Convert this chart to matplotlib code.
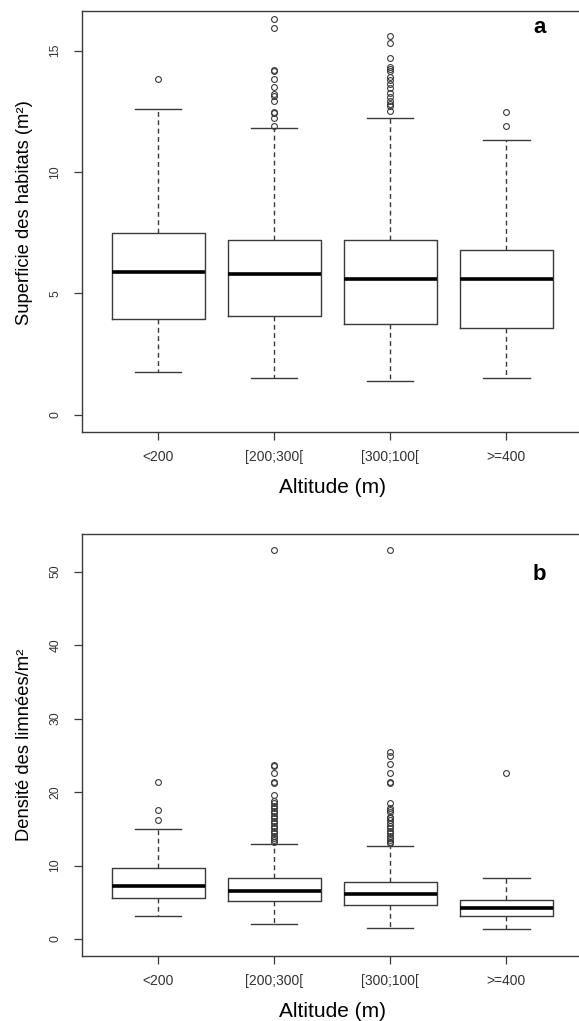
import matplotlib
matplotlib.use("Agg")
import matplotlib.pyplot as plt

plt.rcParams["font.family"] = ["Liberation Sans", "DejaVu Sans"]

# categories
categories = ["<200", "[200;300[", "[300;100[", ">=400"]

# panel a : Superficie des habitats (m²)
a_low = [1.77, 1.50, 1.39, 1.50]
a_q1 = [3.96, 4.08, 3.73, 3.58]
a_med = [5.90, 5.80, 5.59, 5.59]
a_q3 = [7.48, 7.22, 7.22, 6.77]
a_high = [12.6, 11.8, 12.22, 11.3]
a_out = [
    [13.82],
    [16.30, 15.92, 14.21, 14.15, 13.82, 13.52, 13.22, 13.13, 12.92, 12.48, 12.42, 12.22, 11.90],
    [15.62, 15.30, 14.69, 14.34, 14.25, 14.15, 13.90, 13.79, 13.62, 13.45, 13.25, 13.11, 12.94,
     12.81, 12.72, 12.51],
    [12.49, 11.90],
]

# panel b : Densité des limnées/m²
b_low = [3.18, 2.04, 1.54, 1.41]
b_q1 = [5.58, 5.22, 4.58, 3.18]
b_med = [7.21, 6.53, 6.17, 4.22]
b_q3 = [9.62, 8.26, 7.72, 5.27]
b_high = [14.93, 12.89, 12.66, 8.26]
b_out = [
    [21.41, 17.6, 16.2],
    [52.95, 23.73, 23.55, 22.64, 21.42, 21.24, 19.6, 18.79, 18.47, 18.1, 17.79, 17.47, 17.11,
     16.74, 16.43, 16.06, 15.75, 15.38, 15.07, 14.74, 14.38, 14.02, 13.71, 13.48, 13.25],
    [52.95, 25.5, 24.85, 23.78, 22.64, 21.42, 21.19, 18.47, 17.79, 17.56, 17.33, 16.65, 16.43,
     16.2, 15.75, 15.38, 15.07, 14.74, 14.38, 14.02, 13.71, 13.48, 13.25, 13.03],
    [22.6],
]

grey = "#3a3a3a"


def make_stats(low, q1, med, q3, high, out):
    stats = []
    for i in range(len(low)):
        stats.append({"whislo": low[i], "q1": q1[i], "med": med[i], "q3": q3[i],
                      "whishi": high[i], "fliers": out[i]})
    return stats


def draw_panel(ax, stats, ylim, yticks, ylabel, label_y, letter, letter_y):
    ax.bxp(stats, positions=[1, 2, 3, 4], widths=0.8, capwidths=0.4,
           boxprops=dict(color=grey, linewidth=1.0),
           medianprops=dict(color="black", linewidth=2.6, solid_capstyle="butt"),
           whiskerprops=dict(color=grey, linewidth=1.0, linestyle=(0, (3.5, 2.5))),
           capprops=dict(color=grey, linewidth=1.0),
           flierprops=dict(marker="o", markersize=4.2, markerfacecolor="none",
                           markeredgecolor=grey, markeredgewidth=0.8, linestyle="none"))
    ax.set_xlim(0.34, 4.66)
    ax.set_ylim(*ylim)
    ax.set_xticks([1, 2, 3, 4])
    ax.set_xticklabels(categories)
    ax.set_yticks(yticks)
    ax.set_yticklabels([str(t) for t in yticks], rotation=90, va="center")
    ax.tick_params(axis="both", length=5.5, width=0.9, color=grey, labelcolor="#333333")
    ax.tick_params(axis="x", labelsize=10, pad=8)
    ax.tick_params(axis="y", labelsize=8.7, pad=9)
    for s in ax.spines.values():
        s.set_color(grey)
        s.set_linewidth(1.0)
    ax.set_xlabel("Altitude (m)", fontsize=15, labelpad=10)
    ax.set_ylabel(ylabel, fontsize=13.2, labelpad=12, y=label_y)
    ax.text(0.914, letter_y, letter, transform=ax.transAxes, fontsize=16,
            fontweight="semibold", ha="center", va="center")


fig = plt.figure(figsize=(5.79, 10.21), dpi=100)
ax1 = fig.add_axes([0.1408, 0.5772, 0.866, 0.4120])
ax2 = fig.add_axes([0.1408, 0.0640, 0.866, 0.4130])

draw_panel(ax1, make_stats(a_low, a_q1, a_med, a_q3, a_high, a_out), (-0.69, 16.63),
           [0, 5, 10, 15], "Superficie des habitats (m²)", 0.52, "a", 0.96)
draw_panel(ax2, make_stats(b_low, b_q1, b_med, b_q3, b_high, b_out), (-2.27, 55.13),
           [0, 10, 20, 30, 40, 50], "Densité des limnées/m²", 0.5, "b", 0.905)

fig.savefig("out.png", dpi=100)
